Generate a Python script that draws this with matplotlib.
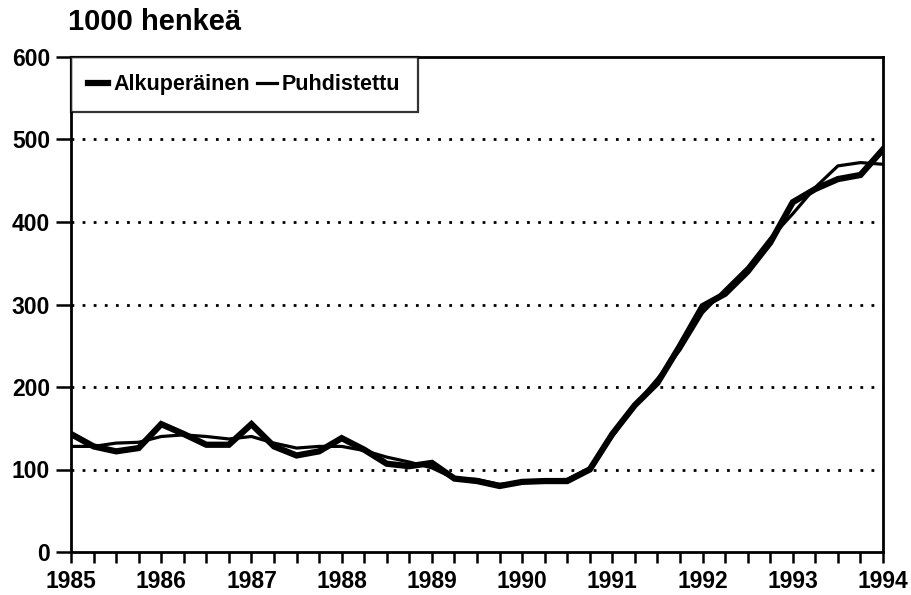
import numpy as np
import matplotlib
matplotlib.use("Agg")
import matplotlib.pyplot as plt
from matplotlib.ticker import MultipleLocator

# neljännesvuosittaiset havainnot 1985 Q1 ... 1994 Q1
vuodet = [1985, 1986, 1987, 1988, 1989, 1990, 1991, 1992, 1993, 1994]
alkuperainen = [143, 128, 122, 126, 155, 143, 130, 130, 155, 128, 117, 122,
                138, 124, 107, 104, 108, 89, 86, 80, 85, 86, 86, 100,
                143, 178, 205, 250, 298, 313, 340, 375, 424, 440, 452, 457,
                488]
puhdistettu = [128, 128, 132, 133, 140, 142, 140, 137, 140, 132, 126, 128,
               128, 123, 115, 109, 102, 89, 88, 82, 84, 87, 88, 102,
               140, 178, 210, 245, 290, 318, 345, 380, 410, 442, 468, 472,
               470]

aika = vuodet[0] + np.arange(len(alkuperainen)) / 4.0

plt.rcParams['font.family'] = ['Liberation Sans', 'DejaVu Sans']
plt.rcParams['font.weight'] = 'bold'

fig = plt.figure(figsize=(9.12, 5.95), dpi=100)
ax = fig.add_axes([71 / 912, 1 - 552 / 595, 812 / 912, 495 / 595])

# pisteviivat 100:n välein
for y in range(100, 600, 100):
    ax.axhline(y, color='black', lw=2, linestyle=(0, (1, 3)), zorder=1)

ax.plot(aika, alkuperainen, color='black', lw=4.5, solid_joinstyle='miter',
        label='Alkuperäinen', zorder=3)
ax.plot(aika, puhdistettu, color='black', lw=2.3, label='Puhdistettu', zorder=4)

ax.set_xlim(1985, 1994)
ax.set_ylim(0, 600)
ax.set_xticks(vuodet)
ax.xaxis.set_minor_locator(MultipleLocator(0.25))
ax.set_yticks(range(0, 700, 100))

ax.tick_params(axis='both', which='both', direction='out', width=1.8,
               labelsize=16.5, top=False, right=False)
ax.tick_params(axis='x', which='both', length=8, pad=5)
ax.tick_params(axis='y', length=11, pad=4)
for lab in ax.get_xticklabels() + ax.get_yticklabels():
    lab.set_fontweight('bold')

for s in ax.spines.values():
    s.set_linewidth(2)

leg = ax.legend(loc='upper left', ncol=2, frameon=True, fancybox=False,
                borderaxespad=0, handlelength=0.9, handletextpad=0.25,
                columnspacing=0.35, borderpad=0.8,
                prop={'size': 15.5, 'weight': 'bold'})
leg.get_frame().set_edgecolor('black')
leg.get_frame().set_linewidth(1.6)

fig.text(68 / 912, 1 - 22 / 595, '1000 henkeä', fontsize=21,
         fontweight='bold', ha='left', va='center')

fig.savefig('out.png', dpi=100)
